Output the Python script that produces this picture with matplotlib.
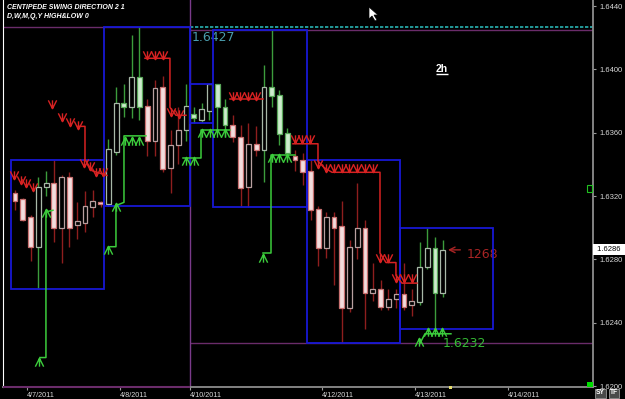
import matplotlib.pyplot as plt
import matplotlib.transforms as mtransforms
from matplotlib.path import Path
from matplotlib.patches import Rectangle, Polygon
import numpy as np

plt.rcParams['font.family'] = ['Liberation Sans', 'DejaVu Sans']

# 2h candles, 4/7/2011 - 4/13/2011
opens = [1.6322, 1.6318, 1.6307, 1.6288, 1.6326, 1.6328, 1.6300, 1.6332, 1.6302, 1.6303, 1.6313, 1.6316,
         1.6315, 1.6348, 1.6379, 1.6376, 1.6395, 1.6377, 1.6355, 1.6389, 1.6338, 1.6352, 1.6362, 1.6372,
         1.6368, 1.6374, 1.6391, 1.6376, 1.6365, 1.6357, 1.6326, 1.6353, 1.6349, 1.6389, 1.6384, 1.6360,
         1.6345, 1.6343, 1.6336, 1.6312, 1.6287, 1.6307, 1.6301, 1.6249, 1.6288, 1.6300, 1.6259, 1.6261,
         1.6250, 1.6255, 1.6258, 1.6251, 1.6253, 1.6275, 1.6287, 1.6259]
highs = [1.6324, 1.6319, 1.6308, 1.6332, 1.6336, 1.6343, 1.6333, 1.6335, 1.6316, 1.6323, 1.6324, 1.6317,
         1.6356, 1.6389, 1.6391, 1.6422, 1.6427, 1.6381, 1.6393, 1.6396, 1.6362, 1.6376, 1.6391, 1.6376,
         1.6379, 1.6391, 1.6391, 1.6381, 1.6371, 1.6365, 1.6366, 1.6364, 1.6403, 1.6425, 1.6387, 1.6363,
         1.6349, 1.6347, 1.6343, 1.6314, 1.6310, 1.6310, 1.6317, 1.6292, 1.6328, 1.6305, 1.6278, 1.6267,
         1.6261, 1.6261, 1.6278, 1.6261, 1.6291, 1.6300, 1.6294, 1.6292]
lows = [1.6311, 1.6304, 1.6279, 1.6261, 1.6320, 1.6291, 1.6278, 1.6288, 1.6293, 1.6297, 1.6307, 1.6313,
        1.6314, 1.6346, 1.6370, 1.6369, 1.6368, 1.6345, 1.6345, 1.6335, 1.6322, 1.6340, 1.6355, 1.6366,
        1.6367, 1.6368, 1.6362, 1.6357, 1.6354, 1.6314, 1.6313, 1.6345, 1.6329, 1.6376, 1.6352, 1.6343,
        1.6336, 1.6327, 1.6305, 1.6276, 1.6281, 1.6264, 1.6227, 1.6247, 1.6280, 1.6236, 1.6254, 1.6248,
        1.6248, 1.6249, 1.6248, 1.6244, 1.6251, 1.6274, 1.6236, 1.6256]
closes = [1.6317, 1.6305, 1.6288, 1.6326, 1.6328, 1.6300, 1.6332, 1.6300, 1.6304, 1.6314, 1.6317, 1.6315,
          1.6350, 1.6379, 1.6376, 1.6395, 1.6376, 1.6355, 1.6388, 1.6337, 1.6352, 1.6362, 1.6377, 1.6369,
          1.6375, 1.6391, 1.6376, 1.6365, 1.6357, 1.6325, 1.6353, 1.6349, 1.6389, 1.6383, 1.6359, 1.6347,
          1.6343, 1.6335, 1.6311, 1.6287, 1.6307, 1.6300, 1.6249, 1.6288, 1.6300, 1.6259, 1.6261, 1.6250,
          1.6255, 1.6258, 1.6250, 1.6254, 1.6275, 1.6287, 1.6259, 1.6286]
# swing direction per bar: u = up, d = down
trend = "ddduuddddddd" "uuuuu" "ddddd" "uuuuuu" "dddd" "uuuu" "dddddddddddddddd" "uuuu"

# daily session boundaries (bar index) and week start
day_edges = [-0.5, 11.5, 22.5, 25.5, 37.5, 49.5, 61.5]
week_start = 22.5

date_pos = [1.54, 13.5, 22.5, 39.5, 51.4, 63.4]
date_labels = ['4/7/2011', '4/8/2011', '4/10/2011', '4/12/2011', '4/13/2011', '4/14/2011']

# centipede swing markers (bar, price)
red_arrow_bar = [-0.13, 0.77, 1.41, 2.31,
                 4.76, 6.04, 7.07, 8.10, 8.87, 9.64, 10.41, 11.31,
                 16.97, 17.99, 19.02, 20.05, 21.08,
                 28.02, 28.92, 29.95, 30.98,
                 35.99, 36.89, 37.92, 38.95, 39.97, 41.0, 42.03, 42.93, 43.96, 44.99, 46.02,
                 46.92, 47.94, 48.97, 50.0, 51.03]
red_arrow_price = [1.6333, 1.6330, 1.6328, 1.6326,
                   1.6378, 1.6370, 1.6367, 1.6365, 1.6341, 1.6339, 1.6335, 1.6335,
                   1.6409, 1.6409, 1.6409, 1.6373, 1.6372,
                   1.6383, 1.6383, 1.6383, 1.6383,
                   1.6356, 1.6356, 1.6356, 1.6340, 1.6338, 1.6338, 1.6338, 1.6338, 1.6338, 1.6338, 1.6338,
                   1.6281, 1.6281, 1.6268, 1.6268, 1.6268]
red_path_bar = [[8.10, 9.0, 9.0, 9.9, 11.83],
                [16.71, 19.92, 19.92, 20.69, 21.98],
                [27.63, 31.88],
                [35.73, 38.95, 38.95, 39.72, 40.75, 46.92, 46.92, 47.69, 48.97, 48.97, 49.74, 51.67]]
red_path_price = [[1.6364, 1.6364, 1.6343, 1.6336, 1.6333],
                  [1.6407, 1.6407, 1.6376, 1.6371, 1.6371],
                  [1.6381, 1.6381],
                  [1.6353, 1.6353, 1.6342, 1.6338, 1.6335, 1.6335, 1.6284, 1.6278, 1.6278, 1.6270,
                   1.6265, 1.6265]]

green_arrow_bar = [3.08, 3.98, 11.95, 12.98, 14.14, 15.04, 15.94, 21.98, 23.01, 24.04, 25.06, 25.96,
                   26.99, 31.88, 33.03, 33.93, 34.96, 51.93, 53.08, 53.98, 54.88]
green_arrow_price = [1.6215, 1.6309, 1.6286, 1.6313, 1.6355, 1.6355, 1.6355, 1.6342, 1.6342, 1.6360,
                     1.6360, 1.6360, 1.6360, 1.6281, 1.6344, 1.6344, 1.6344, 1.6228, 1.6234, 1.6234,
                     1.6234]
green_path_bar = [[3.21, 3.98, 3.98, 4.88],
                  [12.21, 12.98, 12.98, 14.01, 14.01, 16.84],
                  [21.59, 23.91, 23.91, 27.63],
                  [31.88, 32.90, 32.90, 35.99],
                  [52.06, 52.70, 56.04]]
green_path_price = [[1.6218, 1.6218, 1.6310, 1.6311],
                    [1.6288, 1.6288, 1.6314, 1.6316, 1.6358, 1.6358],
                    [1.6344, 1.6344, 1.6362, 1.6362],
                    [1.6284, 1.6284, 1.6346, 1.6346],
                    [1.6227, 1.6233, 1.6233]]

swing_target = 1268

W, H = 625, 399
fig = plt.figure(figsize=(W / 100, H / 100), dpi=100, facecolor='black')
ax = fig.add_axes([3 / W, 12 / H, 590 / W, 387 / H], facecolor='black')
x0, x1 = -1.54, 74.3
ax.set_xlim(x0, x1)
ax.set_ylim(1.61994, 1.64438)

x = np.arange(len(opens))
o, h, l, c = map(np.array, (opens, highs, lows, closes))
up_trend = np.array([t == 'u' for t in trend])

# candles
ax.vlines(x, l, h, colors=np.where(up_trend, '#3c9c3c', '#8e1e1e'), lw=1, zorder=2)
for i in x:
    lo, hi = min(o[i], c[i]), max(o[i], c[i])
    if c[i] >= o[i]:
        fc, ec = 'black', ('#a8b8a8' if up_trend[i] else '#b8a0a0')
    elif up_trend[i]:
        fc, ec = '#cdeccd', '#5aa85a'
    else:
        fc, ec = '#f3dddd', '#c87070'
    ax.add_patch(Rectangle((i - 0.31, lo), 0.62, max(hi - lo, 0.00004),
                           fc=fc, ec=ec, lw=0.9, zorder=3))

# daily high/low boxes
for s, e in zip(day_edges[:-1], day_edges[1:]):
    sel = (x > s) & (x < e)
    lo, hi = l[sel].min(), h[sel].max()
    ax.add_patch(Rectangle((s, lo), e - s, hi - lo, fill=False, ec='#1818d4', lw=1.3, zorder=4))

# weekly high / low
prev_hi = h[x < week_start].max()
cur_hi = h[x > week_start].max()
cur_lo = l[x > week_start].min()
ax.hlines(prev_hi, x0, week_start, color='#6a2c6a', lw=1, zorder=1)
ax.hlines([cur_hi, cur_lo], week_start, x1, color='#6a2c6a', lw=1, zorder=1)
ax.hlines(prev_hi, week_start, x1, color='#2ab4b4', lw=1.2, ls=(0, (2, 1)), zorder=1)
ax.axvline(week_start, color='#7a3a8a', lw=1, zorder=1)
ax.hlines(1.61996, x0, week_start, color='#6a2c6a', lw=1.5, zorder=6, clip_on=False)
ax.text(week_start + 0.2, prev_hi - 0.0003, f'{prev_hi:.4f}', color='#4a9cac', fontsize=9,
        family='DejaVu Sans', va='top', ha='left')

# swing lines and arrows
down_mark = Path([(-0.5, 0.5), (0, -0.5), (0.5, 0.5), (0, 0.5), (0, -0.5)],
                 [Path.MOVETO, Path.LINETO, Path.LINETO, Path.MOVETO, Path.LINETO])
up_mark = Path([(-0.5, -0.5), (0, 0.5), (0.5, -0.5), (0, -0.5), (0, 0.5)],
               [Path.MOVETO, Path.LINETO, Path.LINETO, Path.MOVETO, Path.LINETO])
red, green = '#d82222', '#3ccc3c'
for bx, py in zip(red_path_bar, red_path_price):
    ax.plot(bx, py, color=red, lw=1.1, zorder=5)
for bx, py in zip(green_path_bar, green_path_price):
    ax.plot(bx, py, color=green, lw=1.1, zorder=5)
ax.plot(red_arrow_bar, red_arrow_price, ls='none', marker=down_mark, ms=6, mfc='none',
        mec=red, mew=1, zorder=5)
ax.plot(green_arrow_bar, green_arrow_price, ls='none', marker=up_mark, ms=6, mfc='none',
        mec=green, mew=1, zorder=5)

ax.annotate('', xy=(55.3, c[-1]), xytext=(57.6, c[-1]),
            arrowprops=dict(arrowstyle='->', color='#a82424', lw=1))
ax.text(58.0, 1.6283, str(swing_target), color='#a82424', fontsize=9, family='DejaVu Sans',
        va='center', ha='left')
ax.text(55.0, 1.6227, f'{cur_lo + 0.0005:.4f}', color='#34b834', fontsize=9,
        family='DejaVu Sans', va='center', ha='left')

ax.text(54.1, 1.63985, '2h', color='white', fontsize=7.5, fontweight='bold', va='baseline',
        ha='left')
ax.hlines(1.63968, 54.1, 55.6, color='white', lw=1)

# axes styling
ax.spines['top'].set_visible(False)
ax.spines['left'].set_color('white')
ax.spines['right'].set_color('#8c8c8c')
ax.spines['right'].set_linewidth(1.3)
ax.spines['bottom'].set_color('#8c8c8c')
ax.spines['bottom'].set_linewidth(1.3)
ax.yaxis.tick_right()
ax.set_yticks(np.arange(1.6200, 1.6441, 0.0040))
ax.set_yticklabels([f'{v:.4f}' for v in np.arange(1.6200, 1.6441, 0.0040)])
ax.tick_params(axis='y', colors='#9a9a9a', labelcolor='#d8d8d8', labelsize=5.5, length=2.5,
               width=0.8, pad=2)
ax.set_xticks(date_pos, date_labels)
for t in ax.get_xticklabels():
    t.set_ha('left')
ax.tick_params(axis='x', colors='#9a9a9a', labelcolor='#d8d8d8', labelsize=5.2, length=2,
               width=0.8, pad=1.5)

trans = mtransforms.blended_transform_factory(ax.transAxes, ax.transData)
ax.text(1.004, c[-1], f' {c[-1]:.4f}  ', transform=trans, fontsize=5.5, color='black',
        va='center', ha='left', bbox=dict(fc='white', ec='none', pad=1.5), zorder=10,
        clip_on=False)


def fpx(px, py):
    return (px / W, 1 - py / H)


fig.text(*fpx(7, 7.5), 'CENTIPEDE SWING DIRECTION 2 1', color='white', fontsize=5,
         fontweight='bold', style='italic', va='center')
fig.text(*fpx(7, 16.5), 'D,W,M,Q,Y HIGH&LOW 0', color='white', fontsize=5,
         fontweight='bold', style='italic', va='center')

cursor = [(369, 7), (369, 19), (372, 16), (375, 21), (377, 20), (374, 15), (378, 15)]
fig.patches.append(Polygon([fpx(*p) for p in cursor], closed=True, fc='white', ec='black',
                           lw=0.5, transform=fig.transFigure))
fig.patches.append(Rectangle(fpx(587, 387), 6 / W, 5 / H, fc='#00dd00', ec='none',
                             transform=fig.transFigure))
fig.patches.append(Rectangle(fpx(587, 192), 5 / W, 7 / H, fc='none', ec='#20c020', lw=0.8,
                             transform=fig.transFigure))
fig.patches.append(Rectangle(fpx(449, 389), 3 / W, 3 / H, fc='#e8e070', ec='none',
                             transform=fig.transFigure))
for px, lab in [(596, 'SY'), (610, 'TF')]:
    fig.text(*fpx(px, 393), lab, color='white', fontsize=4.8, fontweight='bold', va='center',
             bbox=dict(fc='#4a4a4a', ec='#b0b0b0', lw=0.5, pad=0.7))

fig.savefig('out.png', dpi=100, facecolor='black')
